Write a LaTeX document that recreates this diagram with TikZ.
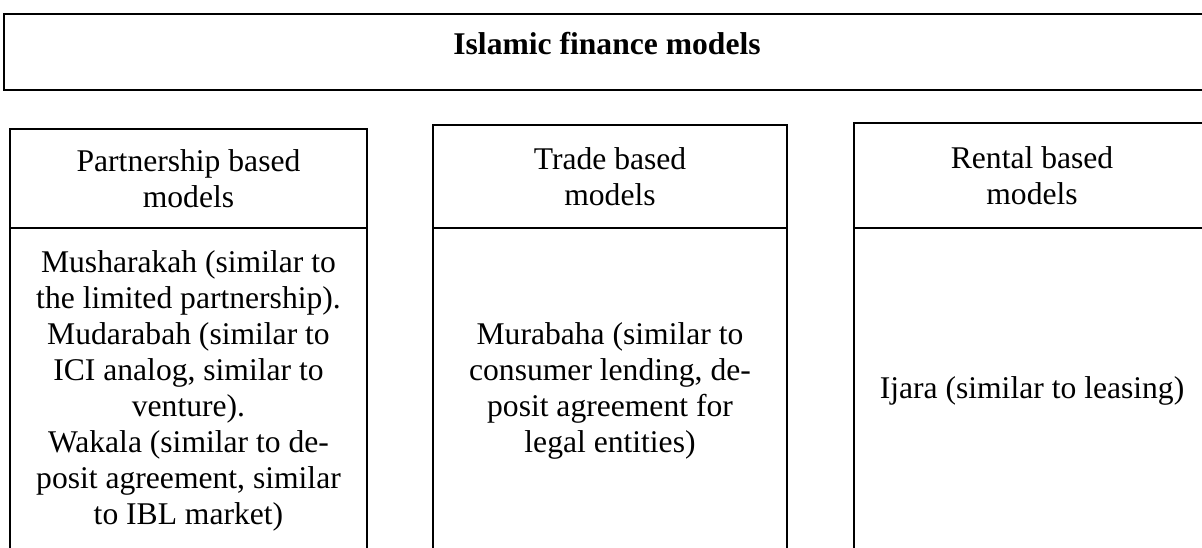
\documentclass[tikz,border=0pt]{standalone}
\usepackage{fontspec}
\setmainfont{Liberation Serif}
\usetikzlibrary{positioning}

\tikzset{
    cell/.style = {draw, line width = 2.6pt, inner sep = 0pt, outer sep = 0pt,
                   align = center, font = \fontsize{31.6}{36}\selectfont},
}

\begin{document}
\begin{tikzpicture}[x = 1pt, y = -1pt]
    \useasboundingbox (0, 0) rectangle (1202, 548);
    \clip (0, 0) rectangle (1202, 548);

    %% title bar
    \node[cell, minimum width = 1206pt, minimum height = 76pt,
          text height = 22pt, text depth = 16pt,
          font = \fontsize{31.6}{36}\selectfont\bfseries]
        (title) at (607, 52) {Islamic finance models};

    %% column heads
    \node[cell, minimum width = 357pt, minimum height = 99pt]
        (part) at (188.5, 178.5) {Partnership based\\models};
    \node[cell, minimum width = 354pt, minimum height = 103pt]
        (trade) at (610, 176.5) {Trade based\\models};
    \node[cell, minimum width = 356pt, minimum height = 105pt]
        (rent) at (1032, 175.5) {Rental based\\models};

    %% column bodies
    \node[cell, minimum width = 357pt, minimum height = 326pt, below = 0pt of part]
        (partbody) {Musharakah (similar to\\the limited partnership).\\
                    Mudarabah (similar to\\ICI analog, similar to\\venture).\\
                    Wakala (similar to de-\\posit agreement, similar\\to IBL market)};
    \node[cell, minimum width = 354pt, minimum height = 326pt, below = 0pt of trade]
        (tradebody) {Murabaha (similar to\\consumer lending, de-\\
                     posit agreement for\\legal entities)};
    \node[cell, minimum width = 356pt, minimum height = 326pt, below = 0pt of rent]
        (rentbody) {Ijara (similar to leasing)};
\end{tikzpicture}
\end{document}
